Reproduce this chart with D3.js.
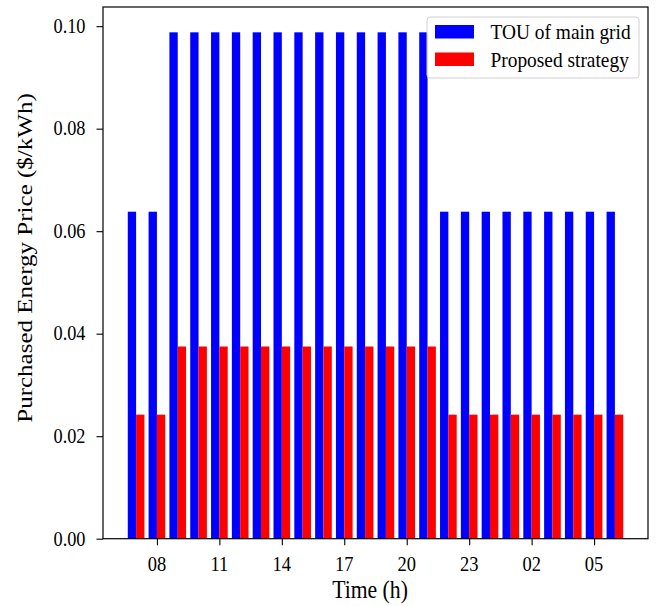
<!DOCTYPE html>
<html>
<head>
<meta charset="utf-8">
<script src="https://cdn.jsdelivr.net/npm/d3@7"></script>
<style>
  html, body { margin: 0; padding: 0; background: #fff; }
  svg { display: block; font-family: "Liberation Serif", "Times New Roman", serif; }
</style>
</head>
<body>
<svg id="chart" width="657" height="606"></svg>
<script>
// Hours of the day, starting at 07:00
const hours = ["07","08","09","10","11","12","13","14","15","16","17","18",
               "19","20","21","22","23","00","01","02","03","04","05","06"];
// Purchase price from the main grid under time-of-use tariff ($/kWh)
const touPrice = [0.0638,0.0638,0.0988,0.0988,0.0988,0.0988,0.0988,0.0988,0.0988,0.0988,0.0988,0.0988,
                  0.0988,0.0988,0.0988,0.0638,0.0638,0.0638,0.0638,0.0638,0.0638,0.0638,0.0638,0.0638];
// Purchase price under the proposed strategy ($/kWh)
const proposedPrice = [0.0242,0.0242,0.0375,0.0375,0.0375,0.0375,0.0375,0.0375,0.0375,0.0375,0.0375,0.0375,
                       0.0375,0.0375,0.0375,0.0242,0.0242,0.0242,0.0242,0.0242,0.0242,0.0242,0.0242,0.0242];
const xTickLabels = ["08","11","14","17","20","23","02","05"];
const yTicks = [0.00, 0.02, 0.04, 0.06, 0.08, 0.10];
const seriesNames = ["TOU of main grid", "Proposed strategy"];
const seriesColors = ["#0000ff", "#ff0000"];

const svg = d3.select("#chart");
const plot = { left: 103, right: 648, top: 7, bottom: 538.7 };
const barW = 0.4;
const n = hours.length;
const xPad = (n - 1 + 2 * barW) * 0.05;
// glyphs are drawn slightly taller than wide
const SY = 1.12;

const x = d3.scaleLinear()
  .domain([-barW - xPad, n - 1 + barW + xPad])
  .range([plot.left, plot.right]);
const yMax = d3.max(touPrice.concat(proposedPrice)) * 1.05;
const y = d3.scaleLinear().domain([0, yMax]).range([plot.bottom, plot.top]);

const data = hours.map((h, i) => ({ i, h, tou: touPrice[i], prop: proposedPrice[i] }));

// Bars: TOU to the left of each hour, proposed to the right
svg.append("g").selectAll("rect").data(data).join("rect")
  .attr("x", d => x(d.i - barW))
  .attr("y", d => y(d.tou))
  .attr("width", d => x(d.i) - x(d.i - barW))
  .attr("height", d => y(0) - y(d.tou))
  .attr("fill", seriesColors[0]);

svg.append("g").selectAll("rect").data(data).join("rect")
  .attr("x", d => x(d.i))
  .attr("y", d => y(d.prop))
  .attr("width", d => x(d.i + barW) - x(d.i))
  .attr("height", d => y(0) - y(d.prop))
  .attr("fill", seriesColors[1]);

// Text placed at (px, py) baseline, stretched vertically by SY
function label(parent, px, py, str, size, anchor) {
  return parent.append("text")
    .attr("transform", `translate(${px},${py}) scale(1,${SY})`)
    .attr("text-anchor", anchor || "start")
    .attr("fill", "#000")
    .style("font-size", size + "px")
    .text(str);
}

// Axes (ticks drawn by d3, labels placed separately)
const tickIdx = xTickLabels.map(l => hours.indexOf(l));
const gx = svg.append("g")
  .attr("transform", `translate(0,${plot.bottom})`)
  .call(d3.axisBottom(x).tickValues(tickIdx).tickFormat("").tickSize(6.5));
const gy = svg.append("g")
  .attr("transform", `translate(${plot.left},0)`)
  .call(d3.axisLeft(y).tickValues(yTicks).tickFormat("").tickSize(6.5));
[gx, gy].forEach(g => {
  g.select(".domain").remove();
  g.selectAll(".tick line").attr("stroke", "#000").attr("stroke-width", 1.1);
  g.selectAll(".tick text").remove();
});

const tickLayer = svg.append("g");
tickIdx.forEach(i => label(tickLayer, x(i), 570.5, hours[i], 18.5, "middle"));
yTicks.forEach(v => label(tickLayer, 85.5, y(v) + 6.8, d3.format(".2f")(v), 18.3, "end"));

// Frame
svg.append("rect")
  .attr("x", plot.left).attr("y", plot.top)
  .attr("width", plot.right - plot.left).attr("height", plot.bottom - plot.top)
  .attr("fill", "none").attr("stroke", "#000").attr("stroke-width", 1.2);

// Axis titles
label(svg, 370, 598, "Time (h)", 21.7, "middle");
svg.append("text")
  .attr("transform", `translate(32,258) scale(1,${SY * 1.03}) rotate(-90)`)
  .attr("text-anchor", "middle").attr("fill", "#000")
  .style("font-size", "21.7px")
  .text("Purchased Energy Price ($/kWh)");

// Legend
const lg = svg.append("g").attr("transform", "translate(427,17)");
lg.append("rect")
  .attr("width", 212).attr("height", 61).attr("rx", 3)
  .attr("fill", "#fff").attr("fill-opacity", 0.8)
  .attr("stroke", "#d0d0d0").attr("stroke-width", 1);
seriesNames.forEach((name, k) => {
  lg.append("rect")
    .attr("x", 8).attr("y", 8 + k * 27.5)
    .attr("width", 39).attr("height", 13.5)
    .attr("fill", seriesColors[k]);
  label(lg, 63.5, 22 + k * 27.5, name, 19.4);
});
</script>
</body>
</html>
